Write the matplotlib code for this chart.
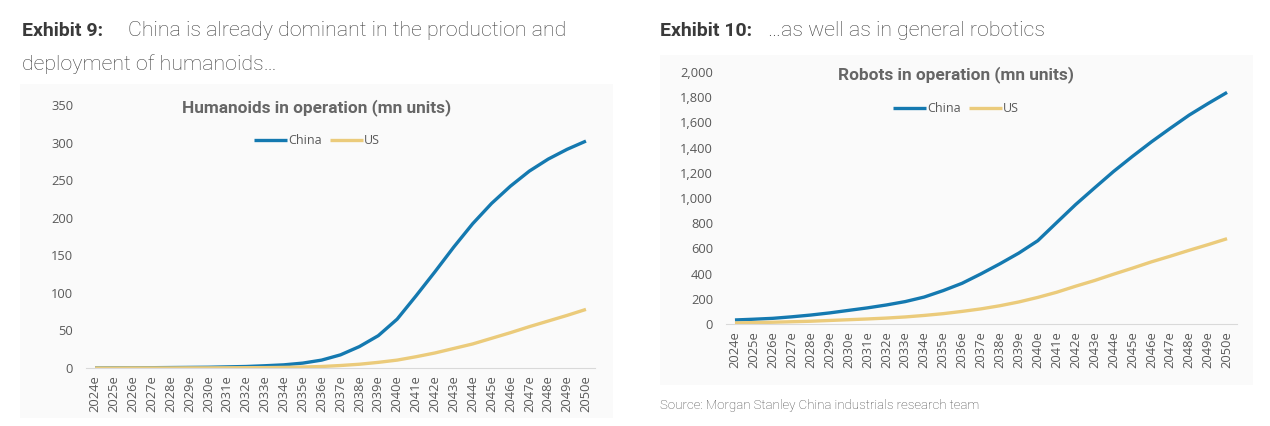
import matplotlib
matplotlib.use("Agg")
import matplotlib.pyplot as plt
from matplotlib.patches import Rectangle
from matplotlib.ticker import FuncFormatter

# data (mn units)
years = [f"{y}e" for y in range(2024, 2051)]

humanoids_china = [0.1, 0.2, 0.3, 0.4, 0.6, 0.8, 1.0, 1.5, 2.0, 3.0, 4.2, 6.5, 10.5,
                   17.5, 28.5, 43, 65, 96, 128, 161, 192, 219, 242, 262, 278, 291, 302]
humanoids_us = [0.0, 0.0, 0.1, 0.1, 0.1, 0.2, 0.2, 0.3, 0.4, 0.5, 0.8, 1.3, 2.0,
                3.3, 5.0, 7.5, 10.5, 15, 20, 26, 32, 39.5, 47, 55, 62.5, 70, 78]

robots_china = [32, 38, 45, 57, 71, 88, 108, 128, 151, 178, 214, 265, 323,
                398, 478, 563, 661, 805, 948, 1080, 1210, 1330, 1445, 1553, 1658, 1750, 1838]
robots_us = [8, 11, 14, 18, 22, 28, 34, 40, 47, 56, 68, 82, 100,
             120, 145, 175, 211, 252, 300, 345, 395, 443, 493, 538, 585, 630, 677]

CHINA = "#1479B0"
US = "#EBCB7B"
GREY = "#595959"

W, H = 1270, 426
fig = plt.figure(figsize=(W / 100, H / 100), dpi=100)
fig.patch.set_facecolor("white")


def px(x, y):
    return x / W, 1 - y / H


# light panel backgrounds, behind the axes
panels = [(20, 84, 613, 418), (660, 55, 1253, 385)]
for x0, y0, x1, y1 in panels:
    fig.patches.append(Rectangle(px(x0, y1), (x1 - x0) / W, (y1 - y0) / H,
                                 transform=fig.transFigure, facecolor="#FAFAFA",
                                 edgecolor="none", zorder=-5))

# headings
HEAD = "#3E3E3E"
fig.text(*px(22, 31), "Exhibit 9:", fontsize=14, fontweight="bold", color="#3A3A3A",
         family="Roboto", va="center")
fig.text(*px(128, 31), "China is already dominant in the production and", fontsize=15.4,
         fontweight="light", color=HEAD, family="Roboto", va="center")
fig.text(*px(22, 64), "deployment of humanoids\u2026", fontsize=15.4,
         fontweight="light", color=HEAD, family="Roboto", va="center")
fig.text(*px(660, 31), "Exhibit 10:", fontsize=14, fontweight="bold", color="#3A3A3A",
         family="Roboto", va="center")
fig.text(*px(768, 31), "\u2026as well as in general robotics", fontsize=15.4,
         fontweight="light", color=HEAD, family="Roboto", va="center")
fig.text(*px(660, 405), "Source: Morgan Stanley China industrials research team",
         fontsize=9.5, fontweight="light", color="#444444", family="Roboto", va="center")


def draw(ax, china, us, ymax, step, title, cx, ty, ly):
    ax.set_facecolor("none")
    x = range(len(years))
    ax.plot(x, china, color=CHINA, lw=2.4, label="China", solid_capstyle="butt")
    ax.plot(x, us, color=US, lw=2.4, label="US", solid_capstyle="butt")
    ax.set_xlim(-0.5, len(years) - 0.5)
    ax.set_ylim(0, ymax)
    ax.set_yticks(range(0, ymax + 1, step))
    ax.yaxis.set_major_formatter(FuncFormatter(lambda v, p: f"{v:,.0f}"))
    ax.set_xticks(list(x))
    ax.set_xticklabels(years, rotation=90)
    for s in ["top", "right", "left"]:
        ax.spines[s].set_visible(False)
    ax.spines["bottom"].set_color("#D9D9D9")
    ax.tick_params(axis="both", length=0, labelsize=9.3, colors=GREY)
    ax.tick_params(axis="y", pad=9)
    ax.tick_params(axis="x", pad=5)
    for lab in ax.get_xticklabels() + ax.get_yticklabels():
        lab.set_family("Open Sans")
    # title and legend are centred on the grey panel, not on the plot area
    fig.text(*px(cx, ty), title, fontsize=12.4, fontweight="bold", color="#666666",
             family="Roboto", ha="center", va="center")
    leg = ax.legend(loc="center", bbox_to_anchor=px(cx, ly), bbox_transform=fig.transFigure,
                    ncol=2, frameon=False, handlelength=2.6, handletextpad=0.1,
                    columnspacing=0.7, prop={"family": "Open Sans", "size": 9})
    for t in leg.get_texts():
        t.set_color(GREY)


ax1 = fig.add_axes([85.6 / W, (H - 368) / H, 509.8 / W, 263 / H])
draw(ax1, humanoids_china, humanoids_us, 350, 50, "Humanoids in operation (mn units)",
     317, 108, 141)

ax2 = fig.add_axes([725.5 / W, (H - 324) / H, 511 / W, 252 / H])
draw(ax2, robots_china, robots_us, 2000, 200, "Robots in operation (mn units)",
     956, 75, 109)

fig.savefig("out.png", dpi=100)
